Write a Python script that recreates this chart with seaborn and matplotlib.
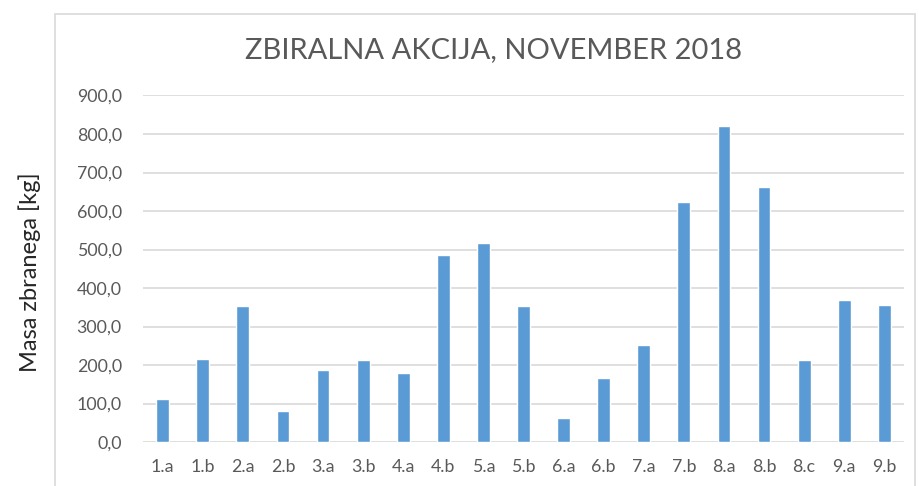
import numpy as np
import pandas as pd
import seaborn as sns
import matplotlib.pyplot as plt
from matplotlib.patches import Rectangle
from matplotlib.ticker import FuncFormatter

# Data
razredi = ["1.a", "1.b", "2.a", "2.b", "3.a", "3.b", "4.a", "4.b", "5.a", "5.b",
           "6.a", "6.b", "7.a", "7.b", "8.a", "8.b", "8.c", "9.a", "9.b"]
masa = [113, 216, 352, 80, 186, 212, 178, 485, 516, 352,
        63, 167, 253, 624, 821, 663, 212, 369, 357]
y_ticks = [0, 100, 200, 300, 400, 500, 600, 700, 800, 900]

df = pd.DataFrame({"razred": razredi, "masa": masa})

sns.set_style("white")
plt.rcParams['font.family'] = ['Lato', 'DejaVu Sans']

fig = plt.figure(figsize=(9.2, 4.86), dpi=100)
ax = fig.add_axes([0.155, 0.0905, 0.828, 0.713])

# chart border like in the spreadsheet export
fig.patches.append(Rectangle((55 / 920, -0.05), 860 / 920, 1.0 - 14 / 486 + 0.05,
                             transform=fig.transFigure, fill=False,
                             edgecolor="#D9D9D9", linewidth=1.2))

sns.barplot(data=df, x="razred", y="masa", color="#5B9BD5", width=0.32,
            saturation=1, ax=ax, zorder=3)

ax.set_ylim(0, 900)
ax.set_yticks(y_ticks)
ax.yaxis.set_major_formatter(FuncFormatter(lambda v, p: f"{v:.1f}".replace(".", ",")))
ax.grid(axis="y", color="#D9D9D9", linewidth=1.2, zorder=0)
ax.set_axisbelow(True)
for s in ax.spines.values():
    s.set_visible(False)
ax.tick_params(axis="both", length=0, labelsize=12.8, colors="#595959")
ax.tick_params(axis="y", pad=15)
ax.tick_params(axis="x", pad=12)

ax.set_xlabel("")
ax.set_ylabel("")
fig.text(30 / 920, 1 - 272 / 486, "Masa zbranega [kg]", rotation=90,
         ha="center", va="center", fontsize=17, color="#262626")
fig.text(494 / 920, 1 - 50 / 486, "ZBIRALNA AKCIJA, NOVEMBER 2018",
         ha="center", va="center", fontsize=21, color="#595959")

fig.savefig("out.png", dpi=100)
